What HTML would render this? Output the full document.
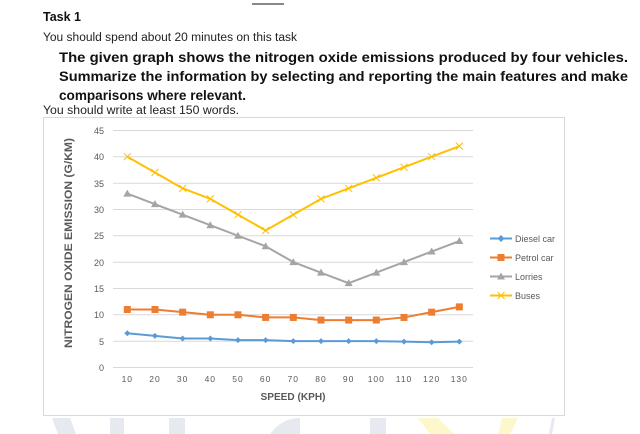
<!DOCTYPE html>
<html><head><meta charset="utf-8"><style>
html,body{margin:0;padding:0;background:#fff;}
body{width:640px;height:434px;overflow:hidden;position:relative;font-family:"Liberation Sans",sans-serif;}
</style></head><body>
<svg width="640" height="434" viewBox="0 0 640 434" xmlns="http://www.w3.org/2000/svg" style="position:absolute;left:0;top:0">
<rect x="0" y="0" width="640" height="434" fill="#fff"/>
<!-- watermark -->
<polygon points="52,418 70,418 76,434 58,434" fill="#e6e9f0"/>
<rect x="110" y="418" width="14" height="16" fill="#e6e9f0"/>
<rect x="169" y="418" width="16" height="16" fill="#e6e9f0"/>
<path d="M270,434 Q282,418 300,418 L300,434Z" fill="#e6e9f0"/>
<rect x="370" y="418" width="16" height="16" fill="#e6e9f0"/>
<polygon points="418,418 438,418 454,434 430,434" fill="#fdf8cc"/>
<polygon points="502,418 518,418 510,434 498,434" fill="#fdf8cc"/>
<polygon points="552,418 555,418 552,434 549,434" fill="#e6e9f0"/>
<line x1="252" y1="4" x2="284" y2="4" stroke="#111" stroke-width="1"/>
<text x="43" y="21" font-size="12.5" font-weight="bold" fill="#111">Task 1</text>
<text x="43" y="41" font-size="11.5" fill="#222" textLength="254" lengthAdjust="spacingAndGlyphs">You should spend about 20 minutes on this task</text>
<text x="59" y="62" font-size="14" font-weight="bold" fill="#111" textLength="569" lengthAdjust="spacingAndGlyphs">The given graph shows the nitrogen oxide emissions produced by four vehicles.</text>
<text x="59" y="81" font-size="14" font-weight="bold" fill="#111" textLength="569" lengthAdjust="spacingAndGlyphs">Summarize the information by selecting and reporting the main features and make</text>
<text x="59" y="100" font-size="14" font-weight="bold" fill="#111" textLength="187" lengthAdjust="spacingAndGlyphs">comparisons where relevant.</text>
<text x="43" y="114" font-size="11.5" fill="#222" textLength="196" lengthAdjust="spacingAndGlyphs">You should write at least 150 words.</text>
<rect x="43.5" y="117.5" width="521" height="298" fill="#fff" stroke="#d9d9d9"/>
<g stroke="#d9d9d9" stroke-width="1">
<line x1="113" y1="130.5" x2="473" y2="130.5"/><line x1="113" y1="156.8" x2="473" y2="156.8"/>
<line x1="113" y1="183.2" x2="473" y2="183.2"/><line x1="113" y1="209.5" x2="473" y2="209.5"/>
<line x1="113" y1="235.8" x2="473" y2="235.8"/><line x1="113" y1="262.2" x2="473" y2="262.2"/>
<line x1="113" y1="288.5" x2="473" y2="288.5"/><line x1="113" y1="314.8" x2="473" y2="314.8"/>
<line x1="113" y1="341.2" x2="473" y2="341.2"/><line x1="113" y1="367.5" x2="473" y2="367.5"/>
</g>
<g font-size="9" fill="#595959" text-anchor="end">
<text x="104" y="134">45</text><text x="104" y="160">40</text><text x="104" y="187">35</text><text x="104" y="213">30</text><text x="104" y="239">25</text><text x="104" y="266">20</text><text x="104" y="292">15</text><text x="104" y="318">10</text><text x="104" y="345">5</text><text x="104" y="371">0</text>
</g>
<g font-size="8.5" fill="#595959" text-anchor="middle" letter-spacing="1">
<text x="127.3" y="382">10</text><text x="155" y="382">20</text><text x="182.6" y="382">30</text><text x="210.3" y="382">40</text><text x="238" y="382">50</text><text x="265.6" y="382">60</text><text x="293.3" y="382">70</text><text x="321" y="382">80</text><text x="348.6" y="382">90</text><text x="376.3" y="382">100</text><text x="404" y="382">110</text><text x="431.6" y="382">120</text><text x="459.3" y="382">130</text>
</g>
<text x="293" y="400" font-size="10.5" font-weight="bold" fill="#595959" text-anchor="middle" textLength="65" lengthAdjust="spacingAndGlyphs">SPEED (KPH)</text>
<text transform="translate(72,243) rotate(-90)" font-size="11" font-weight="bold" fill="#595959" text-anchor="middle" textLength="210" lengthAdjust="spacingAndGlyphs">NITROGEN OXIDE EMISSION (G/KM)</text>
<g id="plot"></g>
<!-- legend -->
<g font-size="9" fill="#595959">
<line x1="490" y1="238.5" x2="512" y2="238.5" stroke="#5b9bd5" stroke-width="2"/><polygon points="501,235 504.5,238.5 501,242 497.5,238.5" fill="#5b9bd5"/><text x="515" y="242">Diesel car</text>
<line x1="490" y1="257.5" x2="512" y2="257.5" stroke="#ed7d31" stroke-width="2"/><rect x="497.5" y="254" width="7" height="7" fill="#ed7d31"/><text x="515" y="261">Petrol car</text>
<line x1="490" y1="276.5" x2="512" y2="276.5" stroke="#a5a5a5" stroke-width="2"/><polygon points="501,272.5 505,279.5 497,279.5" fill="#a5a5a5"/><text x="515" y="280">Lorries</text>
<line x1="490" y1="295.5" x2="512" y2="295.5" stroke="#ffc000" stroke-width="2"/><path d="M497.5,292 L504.5,299 M504.5,292 L497.5,299" stroke="#ffc000" stroke-width="1"/><text x="515" y="299">Buses</text>
</g>
</svg>
<script>
var d={diesel:[6.5,6,5.5,5.5,5.2,5.2,5,5,5,5,4.9,4.8,4.9],petrol:[11,11,10.5,10,10,9.5,9.5,9,9,9,9.5,10.5,11.5],lor:[33,31,29,27,25,23,20,18,16,18,20,22,24],bus:[40,37,34,32,29,26,29,32,34,36,38,40,42]};
function X(i){return 127.3+i*27.67}function Y(v){return 367.5-v*5.27}
var s='';
function line(a,c){return '<polyline fill="none" stroke="'+c+'" stroke-width="2" points="'+a.map(function(v,i){return X(i)+','+Y(v)}).join(' ')+'"/>';}
s+=line(d.diesel,'#5b9bd5');d.diesel.forEach(function(v,i){var x=X(i),y=Y(v);s+='<polygon points="'+x+','+(y-3)+' '+(x+3)+','+y+' '+x+','+(y+3)+' '+(x-3)+','+y+'" fill="#5b9bd5"/>';});
s+=line(d.petrol,'#ed7d31');d.petrol.forEach(function(v,i){var x=X(i),y=Y(v);s+='<rect x="'+(x-3.5)+'" y="'+(y-3.5)+'" width="7" height="7" fill="#ed7d31"/>';});
s+=line(d.lor,'#a5a5a5');d.lor.forEach(function(v,i){var x=X(i),y=Y(v);s+='<polygon points="'+x+','+(y-4)+' '+(x+4)+','+(y+3)+' '+(x-4)+','+(y+3)+'" fill="#a5a5a5"/>';});
s+=line(d.bus,'#ffc000');d.bus.forEach(function(v,i){var x=X(i),y=Y(v);s+='<path d="M'+(x-3.5)+','+(y-3.5)+'L'+(x+3.5)+','+(y+3.5)+'M'+(x+3.5)+','+(y-3.5)+'L'+(x-3.5)+','+(y+3.5)+'" stroke="#ffc000" stroke-width="1"/>';});
document.getElementById('plot').innerHTML=s;
</script>
</body></html>
